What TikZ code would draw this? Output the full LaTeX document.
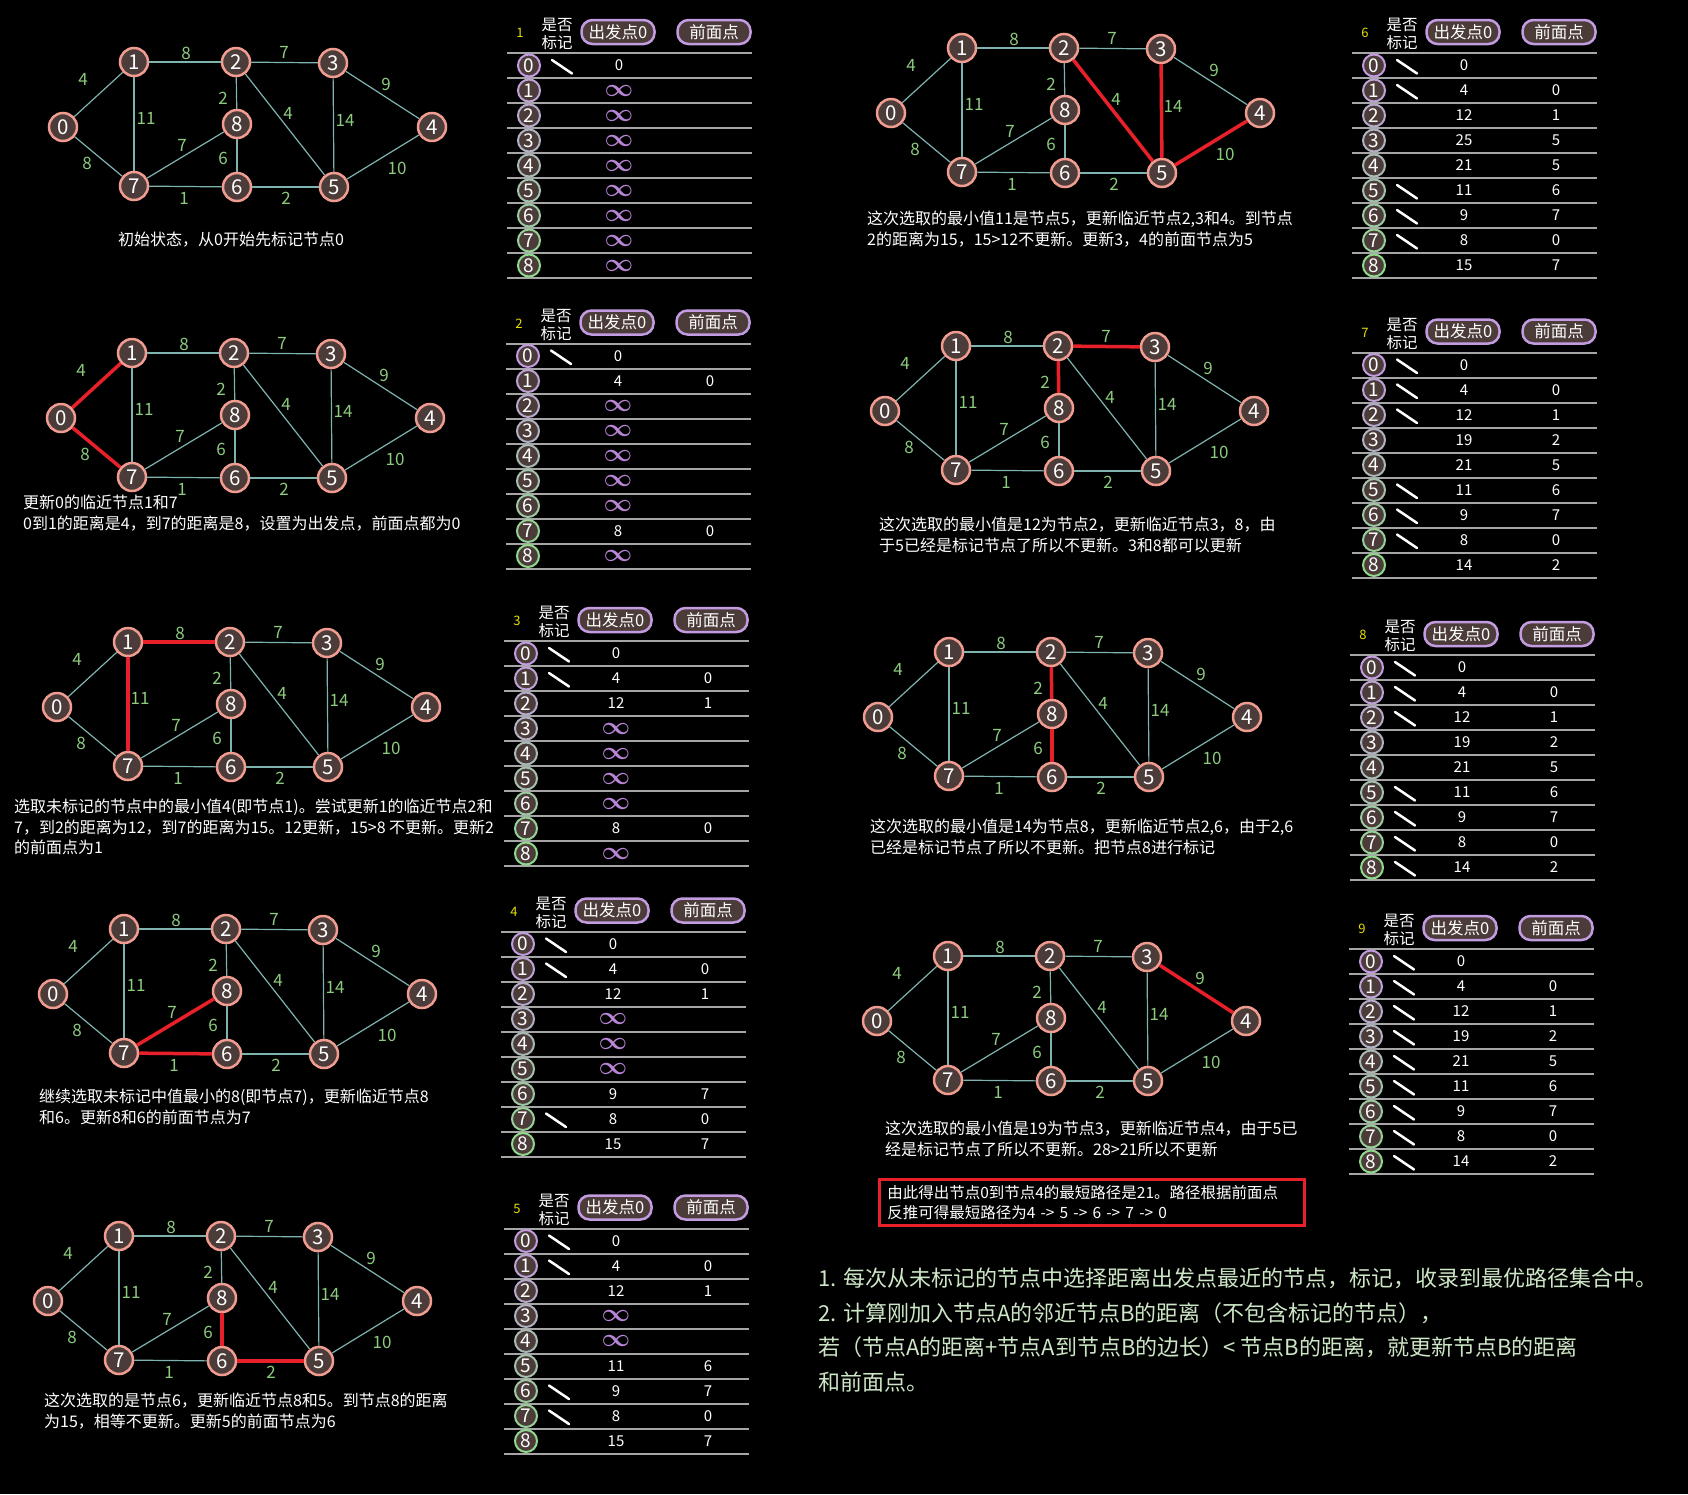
\documentclass[tikz,border=0pt]{standalone}
\usepackage{amsmath}
\usepackage{fontspec}
\setmainfont{Noto Sans CJK SC}
\usepackage{xcolor}
\usetikzlibrary{positioning}
\definecolor{nodefill}{HTML}{4B3C39}
\definecolor{salmon}{HTML}{F09C90}
\definecolor{edgecol}{HTML}{7FB3B0}
\definecolor{wgreen}{HTML}{8CCB7E}
\definecolor{redcol}{HTML}{E8202A}
\definecolor{lav}{HTML}{C39BE0}
\definecolor{mint}{HTML}{8FD88C}
\definecolor{lavtxt}{HTML}{B985D6}
\definecolor{rulegray}{HTML}{A6A6A6}
\definecolor{stepyel}{HTML}{E6E000}
\definecolor{notegreen}{HTML}{CDE6C6}
\tikzset{
  vtx/.style={circle, draw=salmon, line width=2.5pt, fill=nodefill, text=white,
              inner sep=0pt, minimum size=28pt, font=\fontsize{20.5}{20.5}\selectfont},
  edge/.style={draw=edgecol, line width=1.2pt},
  redline/.style={draw=redcol, line width=3.5pt},
  wlab/.style={text=wgreen, inner sep=0pt, font=\fontsize{17}{17}\selectfont},
  captxt/.style={text=white, anchor=north west, align=left, inner sep=0pt,
              font=\fontsize{16}{20.5}\selectfont},
  stepno/.style={text=stepyel, inner sep=0pt, font=\fontsize{13}{13}\selectfont},
  hdr/.style={text=white, align=center, inner sep=0pt, font=\fontsize{15.5}{18}\selectfont},
  pill/.style={rectangle, rounded corners=11pt, draw=lav, line width=2.5pt, fill=nodefill,
               text=white, inner sep=0pt, minimum width=73pt, minimum height=24pt,
               font=\fontsize{16.5}{16.5}\selectfont},
  rowrule/.style={draw=rulegray, line width=2pt},
  rowvtx/.style={circle, line width=2pt, fill=nodefill, text=white, inner sep=0pt,
                 minimum size=22pt, font=\fontsize{19}{19}\selectfont},
  val/.style={text=white, inner sep=0pt, font=\fontsize{15}{15}\selectfont},
  tick/.style={draw=white, line width=2.5pt, line cap=round}
}
\newcommand{\infy}{\textcolor{lavtxt}{\fontsize{23}{23}\selectfont$\boldsymbol{\infty}$}}
% graph: prefix, x and y of node 0
\newcommand{\dgraph}[3]{%
  \begin{scope}[shift={(#2,#3)}]
    \foreach \k/\px/\py in {0/0/0,1/71/-65,2/173/-65,3/270/-64,4/369/0,
                             5/271/60,6/174/60,7/71/59,8/174/-3}
      \node[vtx] (#1-\k) at (\px,\py) {\k};
    \foreach \a/\b/\w/\lx/\ly in {0/1/4/20/-48,1/2/8/123/-74,2/3/7/221/-75,
        3/4/9/323/-43,2/8/2/160/-29,1/7/11/83/-9,2/5/4/225/-14,3/5/14/282/-7,
        7/8/7/119/18,8/6/6/160/31,0/7/8/24/36,7/6/1/121/71,6/5/2/223/71,5/4/10/334/41}{
      \draw[edge] (#1-\a) -- (#1-\b);
      \node[wlab] at (\lx,\ly) {\w};
    }
  \end{scope}}
% table: prefix, x and y of top rule, step, marked rows, rows r/dist/front
\newcommand{\dtable}[6]{%
  \begin{scope}[shift={(#2,#3)}]
    \node[stepno] (#1-no) at (13,-20) {#4};
    \node[hdr] (#1-q) at (50,-19) {是否\\标记};
    \node[pill] (#1-d) at (111,-21) {出发点0};
    \node[pill] (#1-p) at (207,-21) {前面点};
    \foreach \i in {0,...,9}
      \draw[rowrule] (0,25*\i) -- (245,25*\i);
    \foreach \r/\v/\f in {#6}{
      \pgfmathtruncatemacro\pc{100*\r/8}
      \node[rowvtx, draw=mint!\pc!lav] (#1-\r) at (22,12.5+25*\r) {\r};
      \node[val] at (112,12.5+25*\r) {\v};
      \node[val] at (204,12.5+25*\r) {\f};
    }
    \foreach \m in {#5}
      \draw[tick] (45,7+25*\m) -- (65,20.5+25*\m);
  \end{scope}}
\begin{document}
\begin{tikzpicture}[x=1pt, y=-1pt]
\fill[black] (0,0) rectangle (1688,1494);
% ---- left column ----
\dgraph{g1}{63}{127}
\node[captxt] (c1) at (118,232) {初始状态，从0开始先标记节点0};
\dtable{t1}{507}{53}{1}{0}{0/0/{},1/\infy/{},2/\infy/{},3/\infy/{},4/\infy/{},5/\infy/{},6/\infy/{},7/\infy/{},8/\infy/{}}

\dgraph{g2}{61}{418}
\draw[redline] (g2-0) -- (g2-1);
\draw[redline] (g2-0) -- (g2-7);
\node[captxt] (c2) at (23,495) {更新0的临近节点1和7\\0到1的距离是4，到7的距离是8，设置为出发点，前面点都为0};
\dtable{t2}{506}{343.5}{2}{0}{0/0/{},1/4/0,2/\infy/{},3/\infy/{},4/\infy/{},5/\infy/{},6/\infy/{},7/8/0,8/\infy/{}}

\dgraph{g3}{57}{707}
\draw[redline] (g3-1) -- (g3-2);
\draw[redline] (g3-1) -- (g3-7);
\node[captxt] (c3) at (14,799) {选取未标记的节点中的最小值4(即节点1)。尝试更新1的临近节点2和\\7，到2的距离为12，到7的距离为15。12更新，15>8 不更新。更新2\\的前面点为1};
\dtable{t3}{504}{641}{3}{0,1}{0/0/{},1/4/0,2/12/1,3/\infy/{},4/\infy/{},5/\infy/{},6/\infy/{},7/8/0,8/\infy/{}}

\dgraph{g4}{53}{994}
\draw[redline] (g4-7) -- (g4-8);
\draw[redline] (g4-7) -- (g4-6);
\node[captxt] (c4) at (39,1089) {继续选取未标记中值最小的8(即节点7)，更新临近节点8\\和6。更新8和6的前面节点为7};
\dtable{t4}{501}{931.5}{4}{0,1,7}{0/0/{},1/4/0,2/12/1,3/\infy/{},4/\infy/{},5/\infy/{},6/9/7,7/8/0,8/15/7}

\dgraph{g5}{48}{1301}
\draw[redline] (g5-6) -- (g5-8);
\draw[redline] (g5-6) -- (g5-5);
\node[captxt] (c5) at (44,1393) {这次选取的是节点6，更新临近节点8和5。到节点8的距离\\为15，相等不更新。更新5的前面节点为6};
\dtable{t5}{504}{1228.5}{5}{0,1,6,7}{0/0/{},1/4/0,2/12/1,3/\infy/{},4/\infy/{},5/11/6,6/9/7,7/8/0,8/15/7}
% ---- right column ----
\dgraph{g6}{891}{113}
\draw[redline] (g6-2) -- (g6-5);
\draw[redline] (g6-3) -- (g6-5);
\draw[redline] (g6-4) -- (g6-5);
\node[captxt] (c6) at (867,211) {这次选取的最小值11是节点5，更新临近节点2,3和4。到节点\\2的距离为15，15>12不更新。更新3，4的前面节点为5};
\dtable{t6}{1352}{53}{6}{0,1,5,6,7}{0/0/{},1/4/0,2/12/1,3/25/5,4/21/5,5/11/6,6/9/7,7/8/0,8/15/7}

\dgraph{g7}{885}{411}
\draw[redline] (g7-2) -- (g7-8);
\draw[redline] (g7-2) -- (g7-3);
\node[captxt] (c7) at (879,517) {这次选取的最小值是12为节点2，更新临近节点3，8，由\\于5已经是标记节点了所以不更新。3和8都可以更新};
\dtable{t7}{1352}{352.5}{7}{0,1,2,5,6,7}{0/0/{},1/4/0,2/12/1,3/19/2,4/21/5,5/11/6,6/9/7,7/8/0,8/14/2}

\dgraph{g8}{878}{717}
\draw[redline] (g8-8) -- (g8-2);
\draw[redline] (g8-8) -- (g8-6);
\node[captxt] (c8) at (870,819) {这次选取的最小值是14为节点8，更新临近节点2,6，由于2,6\\已经是标记节点了所以不更新。把节点8进行标记};
\dtable{t8}{1350}{655}{8}{0,1,2,5,6,7,8}{0/0/{},1/4/0,2/12/1,3/19/2,4/21/5,5/11/6,6/9/7,7/8/0,8/14/2}

\dgraph{g9}{877}{1021}
\draw[redline] (g9-3) -- (g9-4);
\node[captxt] (c9) at (885,1121) {这次选取的最小值是19为节点3，更新临近节点4，由于5已\\经是标记节点了所以不更新。28>21所以不更新};
\dtable{t9}{1349}{949}{9}{0,1,2,3,4,5,6,7,8}{0/0/{},1/4/0,2/12/1,3/19/2,4/21/5,5/11/6,6/9/7,7/8/0,8/14/2}

% ---- result and notes ----
\node[draw=redcol, line width=2.5pt, anchor=north west, text=white, align=left,
      text width=409pt, inner xsep=8pt, inner ysep=4pt, minimum height=46pt,
      font=\fontsize{15.5}{20}\selectfont] (res) at (878,1178)
  {由此得出节点0到节点4的最短路径是21。路径根据前面点\\反推可得最短路径为4 -> 5 -> 6 -> 7 -> 0};
\node[text=notegreen, anchor=north west, align=left, inner sep=0pt,
      font=\fontsize{22}{34.5}\selectfont] (notes) at (818,1268)
  {1. 每次从未标记的节点中选择距离出发点最近的节点，标记，收录到最优路径集合中。\\
   2. 计算刚加入节点A的邻近节点B的距离（不包含标记的节点），\\
   若（节点A的距离+节点A到节点B的边长）< 节点B的距离，就更新节点B的距离\\
   和前面点。};
\end{tikzpicture}
\end{document}
